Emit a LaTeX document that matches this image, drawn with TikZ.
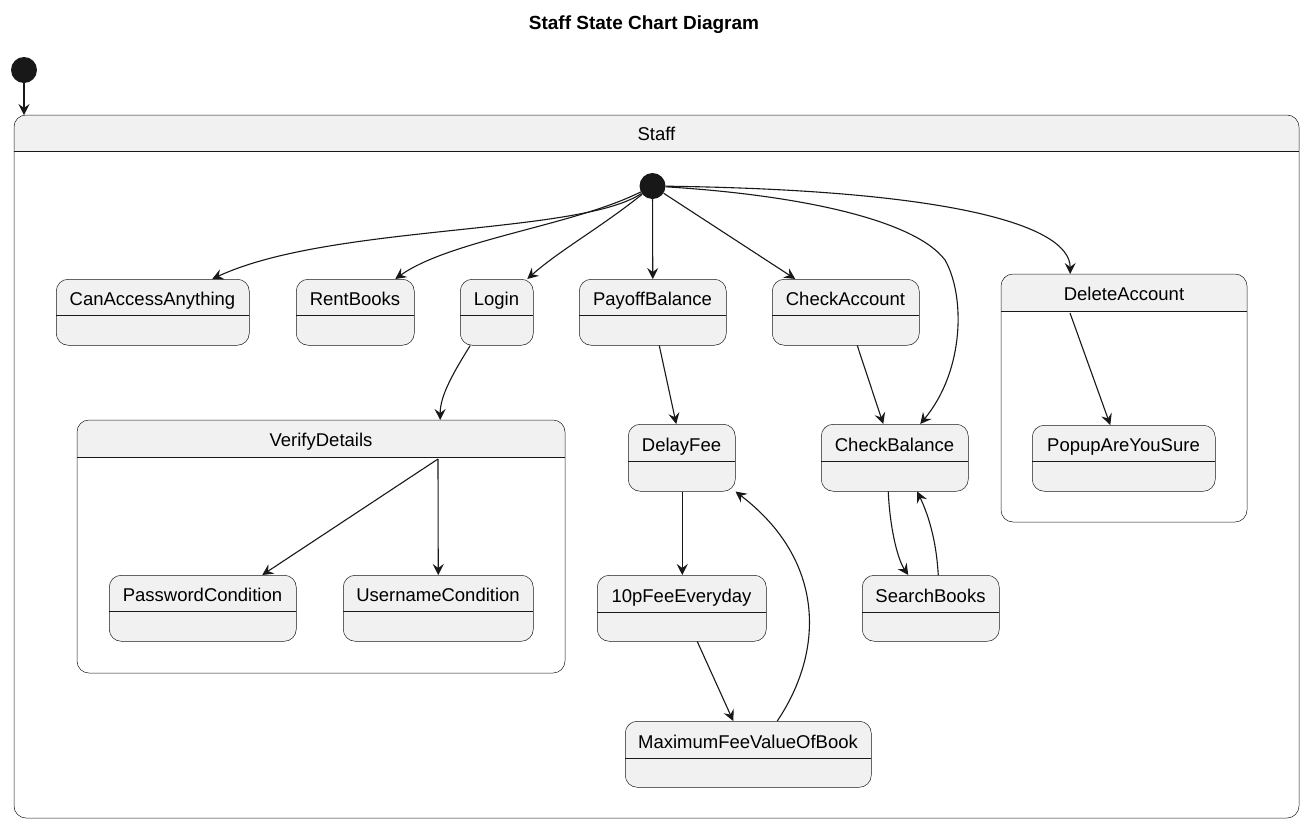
\documentclass[tikz,border=0pt]{standalone}
\usepackage{fontspec}
\setmainfont{Liberation Sans}
\usetikzlibrary{arrows.meta,calc}
\definecolor{sfill}{HTML}{F1F1F1}
\definecolor{sline}{HTML}{181818}
\tikzset{
  statebox/.style={draw=sline, fill=sfill, rounded corners=12pt, line width=0.5pt, inner sep=0pt},
  divline/.style={draw=sline, line width=0.5pt},
  lbl/.style={font=\fontsize{18.5}{22}\selectfont, text=black, inner sep=0pt},
  titlelbl/.style={font=\fontsize{19}{23}\selectfont\bfseries, text=black, inner sep=0pt},
  edge/.style={draw=sline, line width=1.1pt, -{Stealth[length=11pt,width=11pt,inset=4pt]}},
  initdot/.style={circle, fill=sline, draw=none, minimum size=26pt, inner sep=0pt},
  compbody/.style={fill=white, draw=none, inner sep=0pt},
}
\newcommand{\mkstate}[7]{%
  \node[statebox, anchor=north west, minimum width={(#4-#2)*1pt}, minimum height={(#5-#3)*1pt}] (#1) at (#2,#3) {};
  \draw[divline] (#2,#6) -- (#4,#6);
  \node[lbl, anchor=base] (#1-l) at ({(#2+#4)/2},{#6-10}) {#7};
}
\newcommand{\mkcomp}[7]{%
  \node[compbody, anchor=north west, minimum width={(#4-#2)*1pt}, minimum height={(#5-#3)*1pt}] (#1) at (#2,#3) {};
  \begin{scope}
    \clip[rounded corners=12pt] (#2,#3) rectangle (#4,#5);
    \fill[sfill] (#2,#3) rectangle (#4,#6);
  \end{scope}
  \draw[divline, rounded corners=12pt] (#2,#3) rectangle (#4,#5);
  \draw[divline] (#2,#6) -- (#4,#6);
  \node[lbl, anchor=base] (#1-l) at ({(#2+#4)/2},{#6-11}) {#7};
}
\begin{document}
\begin{tikzpicture}[x=1pt,y=-1pt]
\useasboundingbox (0,0) rectangle (1316,825);
\fill[white] (0,0) rectangle (1316,825);

\node[titlelbl, anchor=base] (title) at (644,29) {Staff State Chart Diagram};

\node[initdot] (i1) at (24,70) {};

\mkcomp{staff}{14}{115}{1299}{818}{151}{Staff}
\node[initdot] (i2) at (652.5,186) {};

\mkstate{caa}{56}{279}{249}{345}{315}{CanAccessAnything}
\mkstate{rent}{296}{279}{414}{345}{315}{RentBooks}
\mkstate{login}{460}{279}{533}{345}{315}{Login}
\mkstate{payoff}{579}{279}{726}{345}{315}{PayoffBalance}
\mkstate{checkacc}{772}{279}{919}{345}{315}{CheckAccount}

\mkcomp{del}{1001}{274}{1247}{522}{311}{DeleteAccount}
\mkstate{popup}{1032}{425}{1215}{491}{461}{PopupAreYouSure}

\mkcomp{vd}{77}{420}{565}{673}{457}{VerifyDetails}
\mkstate{pwd}{109}{575}{296}{641}{611}{PasswordCondition}
\mkstate{usr}{343}{575}{533}{641}{611}{UsernameCondition}

\mkstate{delay}{628}{424}{735}{491}{461}{DelayFee}
\mkstate{cbal}{821}{424}{968}{491}{461}{CheckBalance}
\mkstate{tenp}{597}{575}{766}{641}{612}{10pFeeEveryday}
\mkstate{search}{862}{575}{999}{641}{612}{SearchBooks}
\mkstate{maxfee}{625}{721}{871}{787}{758}{MaximumFeeValueOfBook}

\coordinate (vdsrc) at (438,459);
\coordinate (delsrc) at (1070,313);

% edges
\draw[edge] (i1) -- ([xshift=10pt]staff.north west);
\draw[edge] (i2) .. controls (580,235) and (330,224) .. ([xshift=59.5pt]caa.north);
\draw[edge] (i2) .. controls (575,225) and (450,240) .. ([xshift=40pt]rent.north);
\draw[edge] (i2) .. controls (600,228) and (560,250) .. ([xshift=30.5pt]login.north);
\draw[edge] (i2) -- (payoff.north);
\draw[edge] (i2) -- ([xshift=-50.5pt]checkacc.north);
\draw[edge] (i2) .. controls (800,195) and (915,220) .. (945,260) .. controls (965,295) and (965,370) .. ([xshift=25.5pt]cbal.north);
\draw[edge] (i2) .. controls (950,190) and (1070,225) .. ([xshift=-54pt]del.north);

\draw[edge] ([xshift=-26.5pt]login.south) .. controls (455,370) and (440,395) .. ([xshift=119pt]vd.north);
\draw[edge] (vdsrc) -- ([xshift=59.5pt]pwd.north);
\draw[edge] (vdsrc) -- (usr.north);
\draw[edge] (delsrc) -- ([xshift=-13.5pt]popup.north);

\draw[edge] ([xshift=6.5pt]payoff.south) -- ([xshift=-5.5pt]delay.north);
\draw[edge] ([xshift=11.5pt]checkacc.south) -- ([xshift=-11.5pt]cbal.north);
\draw[edge] ([xshift=0.5pt]delay.south) -- ([xshift=0.5pt]tenp.north);
\draw[edge] ([xshift=15.5pt]tenp.south) -- ([xshift=-15pt]maxfee.north);
\draw[edge] ([xshift=29pt]maxfee.north) .. controls (825,650) and (825,560) .. (delay.south east);
\draw[edge] ([xshift=-6.5pt]cbal.south) .. controls (890,530) and (898,560) .. ([xshift=-22.5pt]search.north);
\draw[edge] ([xshift=7.5pt]search.north) .. controls (936,535) and (926,510) .. ([xshift=22.5pt]cbal.south);
\end{tikzpicture}
\end{document}
